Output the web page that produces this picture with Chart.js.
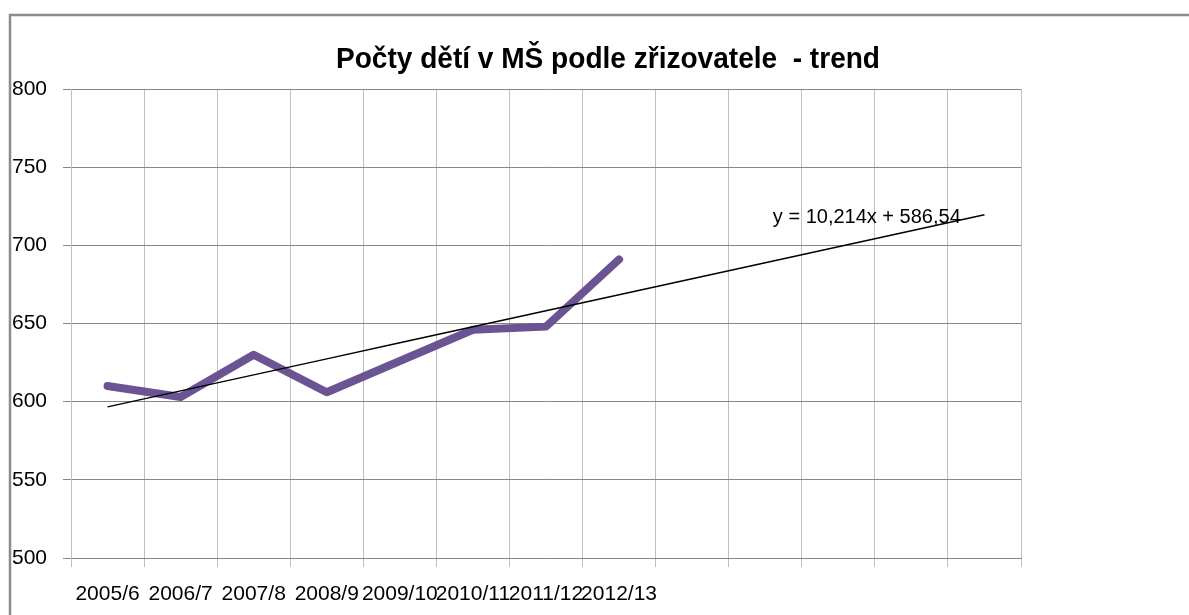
<!DOCTYPE html>
<html>
<head>
<meta charset="utf-8">
<script src="https://cdn.jsdelivr.net/npm/chart.js@4"></script>
<style>
  body { margin: 0; background: #fff; }
  canvas { display: block; }
</style>
</head>
<body>
<canvas id="chart" width="1189" height="615"></canvas>
<script>
// school years (extra empty categories carry the trend forecast)
const years = ["2005/6", "2006/7", "2007/8", "2008/9", "2009/10", "2010/11", "2011/12", "2012/13", "", "", "", "", ""];
const children = [610, 603, 630, 606, 626, 646, 648, 691];
const yTicks = [500, 550, 600, 650, 700, 750, 800];
const chartTitle = "Počty dětí v MŠ podle zřizovatele  - trend";
const trendLabel = "y = 10,214x + 586,54";

// least squares trend over the measured years, x = 1..n
function linearTrend(vals) {
  const n = vals.length;
  let sx = 0, sy = 0, sxy = 0, sxx = 0;
  vals.forEach((v, i) => {
    const x = i + 1;
    sx += x; sy += v; sxy += x * v; sxx += x * x;
  });
  const slope = (n * sxy - sx * sy) / (n * sxx - sx * sx);
  const icpt = (sy - slope * sx) / n;
  return years.map((_, i) => slope * (i + 1) + icpt);
}
const trend = linearTrend(children);

const sansFont = "'Liberation Sans', Arial, sans-serif";

const decor = {
  id: "decor",
  beforeDraw(chart) {
    const ctx = chart.ctx;
    ctx.save();
    ctx.strokeStyle = "#8c8c8c";
    ctx.lineWidth = 2.5;
    ctx.beginPath();
    ctx.moveTo(10, 615);
    ctx.lineTo(10, 15);
    ctx.lineTo(1189, 15);
    ctx.stroke();
    // title squeezed to the width of the original narrower face
    ctx.fillStyle = "#000";
    ctx.font = "bold 29px " + sansFont;
    ctx.textAlign = "center";
    ctx.textBaseline = "alphabetic";
    const w = ctx.measureText(chartTitle).width;
    ctx.translate(608, 68);
    ctx.scale(544 / w, 1);
    ctx.fillText(chartTitle, 0, 0);
    ctx.restore();
  },
  afterDatasetsDraw(chart) {
    const ctx = chart.ctx;
    const xs = chart.scales.x, ys = chart.scales.y;
    ctx.save();
    ctx.fillStyle = "#000";
    ctx.font = "20px " + sansFont;
    ctx.textAlign = "center";
    ctx.textBaseline = "middle";
    ctx.fillText(trendLabel, xs.getPixelForValue(10.39), ys.getPixelForValue(718));
    ctx.restore();
  }
};

new Chart(document.getElementById("chart"), {
  type: "line",
  data: {
    labels: years,
    datasets: [{
      label: "trend",
      data: trend,
      borderColor: "#000",
      borderWidth: 1.5,
      pointRadius: 0,
      order: 0
    }, {
      label: "MŠ",
      data: children,
      borderColor: "#6b5493",
      borderWidth: 8,
      borderCapStyle: "round",
      borderJoinStyle: "round",
      pointRadius: 0,
      order: 1
    }]
  },
  options: {
    responsive: false,
    animation: false,
    layout: { padding: { left: 12, right: 168, top: 89, bottom: 0 } },
    plugins: {
      legend: { display: false },
      title: { display: false },
      tooltip: { enabled: false }
    },
    scales: {
      x: {
        offset: true,
        grid: { offset: true, color: "#c0c0c0", lineWidth: 1, tickLength: 9 },
        border: { color: "#878787", width: 1 },
        ticks: {
          autoSkip: false, maxRotation: 0, minRotation: 0,
          color: "#000", padding: 15,
          font: { family: sansFont, size: 21 }
        },
        afterFit(scale) { scale.height = 57; }
      },
      y: {
        min: 500, max: 800,
        afterBuildTicks(scale) { scale.ticks = yTicks.map(v => ({ value: v })); },
        grid: { color: "#878787", lineWidth: 1, tickLength: 8 },
        border: { color: "#c0c0c0", width: 1 },
        ticks: {
          crossAlign: "far", color: "#000", padding: 3,
          font: { family: sansFont, size: 21 }
        },
        afterFit(scale) { scale.width = 59; }
      }
    }
  },
  plugins: [decor]
});
</script>
</body>
</html>
